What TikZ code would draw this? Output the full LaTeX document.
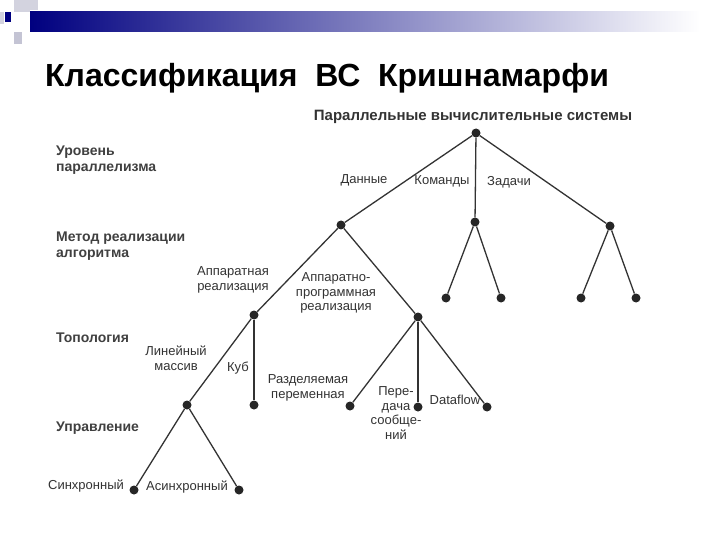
\documentclass[tikz,border=0pt]{standalone}
\usepackage{fontspec}
\setmainfont{Liberation Sans}
\begin{document}
\begin{tikzpicture}[x=1pt,y=-1pt,
  dot/.style={circle,fill=black!85,inner sep=0pt,minimum size=9pt},
  lbl/.style={font=\fontsize{13}{14.5}\selectfont,text=black!80,inner sep=0pt,align=center},
  lvl/.style={font=\bfseries\fontsize{14}{16}\selectfont,text=black!75,inner sep=0pt,align=left,anchor=west},
  edge/.style={line width=1.3pt,black!80}]
\useasboundingbox (0,0) rectangle (720,540);
\fill[white] (0,0) rectangle (720,540);
% header
\shade[left color=blue!50!black,right color=white] (30,12) rectangle (700,32);
\fill[blue!15!gray!30] (14,0) rectangle (30,12);
\fill[blue!15!gray!30] (30,0) rectangle (38,10);
\fill[blue!15!gray!30] (0,12) rectangle (4,24);
\fill[blue!15!gray!40] (14,32) rectangle (22,44);
\fill[blue!50!black] (5,12) rectangle (11,22);
\node[anchor=base west,font=\bfseries\fontsize{32}{34}\selectfont,inner sep=0pt] (title) at (45,87) {Классификация~ ВС~ Кришнамарфи};
% nodes
\node[dot] (r) at (476,133) {};
\node[dot] (d) at (341,225) {};
\node[dot] (k) at (475,222) {};
\node[dot] (z) at (610,226) {};
\node[dot] (k1) at (446,298) {};
\node[dot] (k2) at (501,298) {};
\node[dot] (z1) at (581,298) {};
\node[dot] (z2) at (636,298) {};
\node[dot] (a) at (254,315) {};
\node[dot] (p) at (418,317) {};
\node[dot] (lin) at (187,405) {};
\node[dot] (cub) at (254,405) {};
\node[dot] (p1) at (350,406) {};
\node[dot] (p2) at (418,407) {};
\node[dot] (p3) at (487,407) {};
\node[dot] (s1) at (134,490) {};
\node[dot] (s2) at (239,490) {};
\foreach \u/\v in {r/d,r/k,r/z,k/k1,k/k2,z/z1,z/z2,d/a,d/p,a/lin,a/cub,p/p1,p/p2,p/p3,lin/s1,lin/s2}
  \draw[edge] (\u) -- (\v);
% labels
\node[lbl,font=\bfseries\fontsize{15}{16}\selectfont] (t0) at (473,117) {Параллельные вычислительные системы};
\node[lbl] (l1) at (364,180) {Данные};
\node[lbl] (l2) at (442,181) {Команды};
\node[lbl] (l3) at (509,182) {Задачи};
\node[lbl] (l4) at (233,280) {Аппаратная\\реализация};
\node[lbl] (l5) at (336,293) {Аппаратно-\\программная\\реализация};
\node[lbl] (l6) at (176,358) {Линейный\\массив};
\node[lbl] (l7) at (238,368) {Куб};
\node[lbl] (l8) at (308,388) {Разделяемая\\переменная};
\node[lbl] (l9) at (396,413) {Пере-\\дача\\сообще-\\ний};
\node[lbl] (l10) at (455,400) {Dataflow};
\node[lbl] (l11) at (86,486) {Синхронный};
\node[lbl] (l12) at (187,487) {Асинхронный};
\node[lvl] (v1) at (56,160) {Уровень\\параллелизма};
\node[lvl] (v2) at (56,246) {Метод реализации\\алгоритма};
\node[lvl] (v3) at (56,338) {Топология};
\node[lvl] (v4) at (56,428) {Управление};
\end{tikzpicture}
\end{document}
